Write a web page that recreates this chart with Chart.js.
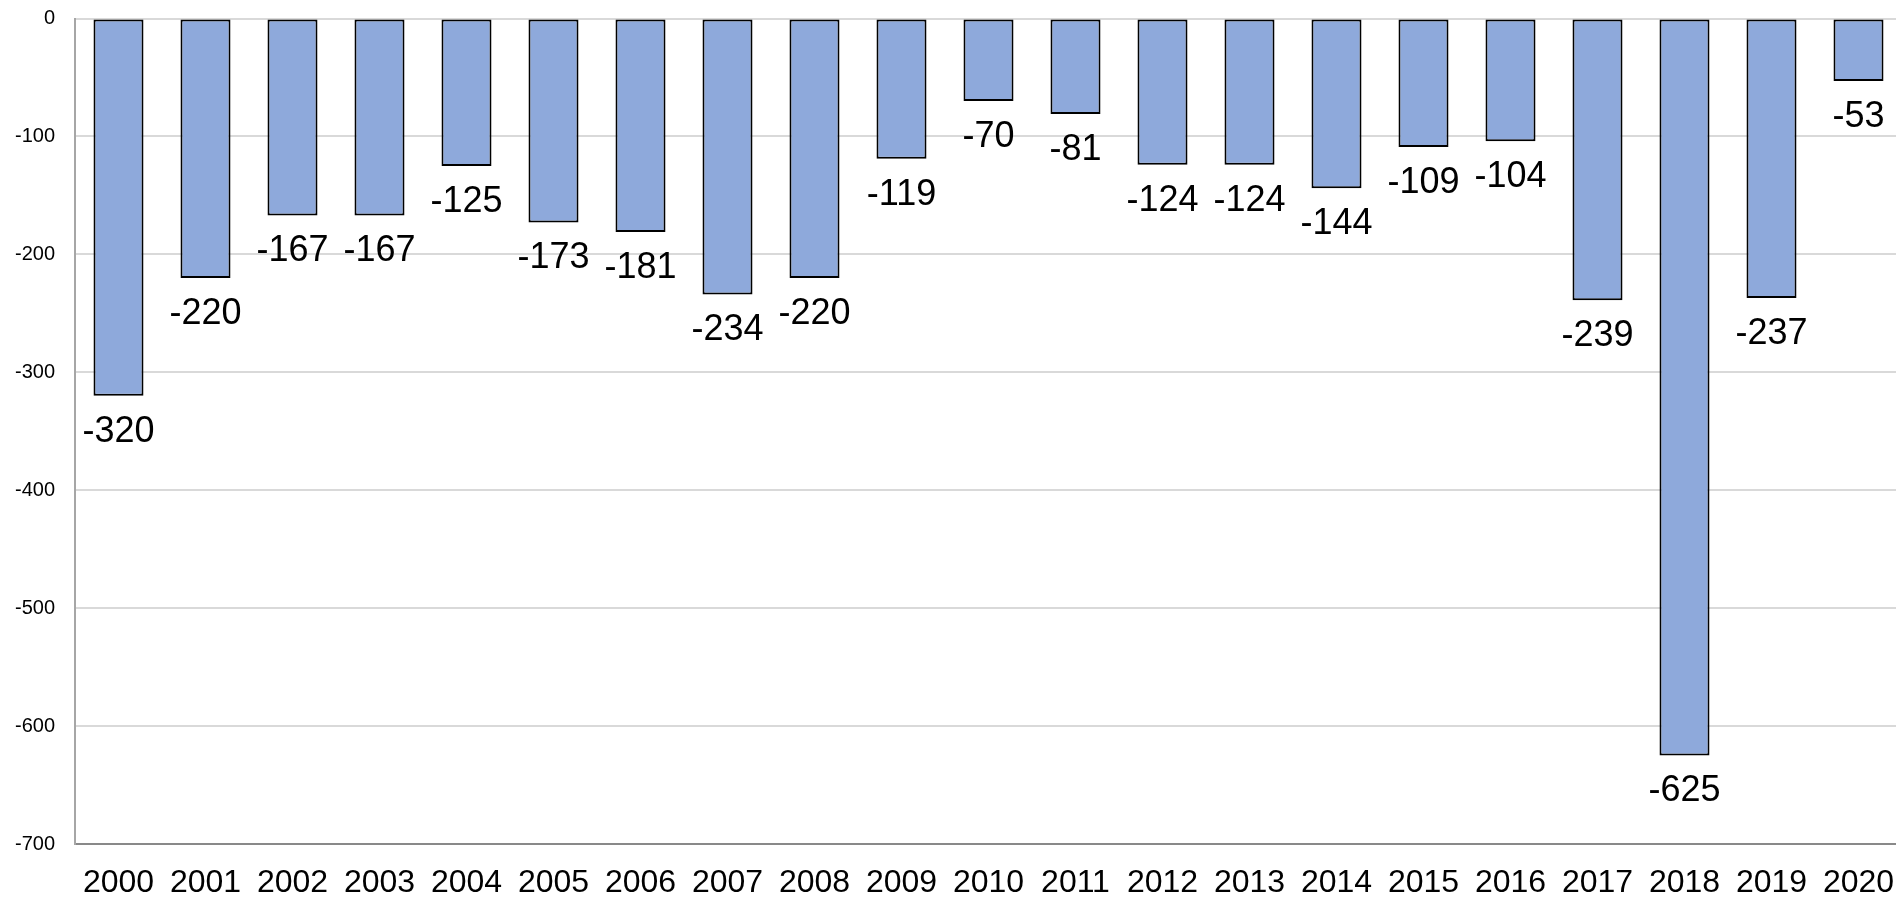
<!DOCTYPE html>
<html>
<head>
<meta charset="utf-8">
<script src="https://cdn.jsdelivr.net/npm/chart.js@4/dist/chart.umd.min.js"></script>
<style>
  html, body { margin: 0; padding: 0; background: #ffffff; overflow: hidden; }
  canvas { display: block; }
</style>
</head>
<body>
<canvas id="c" width="1902" height="899" style="width:1902px;height:899px"></canvas>
<script>
const categories = ["2000","2001","2002","2003","2004","2005","2006","2007","2008","2009","2010","2011","2012","2013","2014","2015","2016","2017","2018","2019","2020"];
const values = [-320, -220, -167, -167, -125, -173, -181, -234, -220, -119, -70, -81, -124, -124, -144, -109, -104, -239, -625, -237, -53];
const yTicks = [0, -100, -200, -300, -400, -500, -600, -700];

const FONT = "'Liberation Sans', Arial, sans-serif";

const valueLabels = {
  id: 'valueLabels',
  afterDatasetsDraw(chart) {
    const ctx = chart.ctx;
    const meta = chart.getDatasetMeta(0);
    ctx.save();
    ctx.font = "36px " + FONT;
    ctx.fillStyle = "#000000";
    ctx.textAlign = "center";
    ctx.textBaseline = "middle";
    meta.data.forEach((bar, i) => {
      ctx.fillText(String(values[i]), bar.x, bar.y + 36);
    });
    ctx.restore();
  }
};

new Chart(document.getElementById('c'), {
  type: 'bar',
  data: {
    labels: categories,
    datasets: [{
      data: values,
      backgroundColor: '#8EA9DB',
      borderColor: '#000000',
      borderWidth: 2,
      borderSkipped: false,
      categoryPercentage: 1.0,
      barPercentage: 0.575
    }]
  },
  options: {
    responsive: false,
    devicePixelRatio: 1,
    animation: false,
    layout: { padding: { top: 18.5, right: 0, bottom: 0, left: 0 } },
    plugins: {
      legend: { display: false },
      tooltip: { enabled: false }
    },
    scales: {
      x: {
        grid: { display: false, drawTicks: false },
        border: { display: true, color: '#898989', width: 2 },
        ticks: {
          color: '#000000',
          font: { family: FONT, size: 32 },
          padding: 20,
          maxRotation: 0,
          autoSkip: false
        },
        afterFit(scale) { scale.height = 55; scale.paddingLeft = 0; scale.paddingRight = 0; }
      },
      y: {
        min: -700,
        max: 0,
        afterBuildTicks(scale) { scale.ticks = yTicks.map(v => ({ value: v })); },
        grid: { color: '#d9d9d9', lineWidth: 2, drawTicks: false },
        border: { display: true, color: '#a6a6a6', width: 2 },
        ticks: {
          color: '#000000',
          font: { family: FONT, size: 20 },
          padding: 20
        },
        afterFit(scale) { scale.width = 75; scale.paddingTop = 0; scale.paddingBottom = 0; }
      }
    }
  },
  plugins: [valueLabels]
});
</script>
</body>
</html>
